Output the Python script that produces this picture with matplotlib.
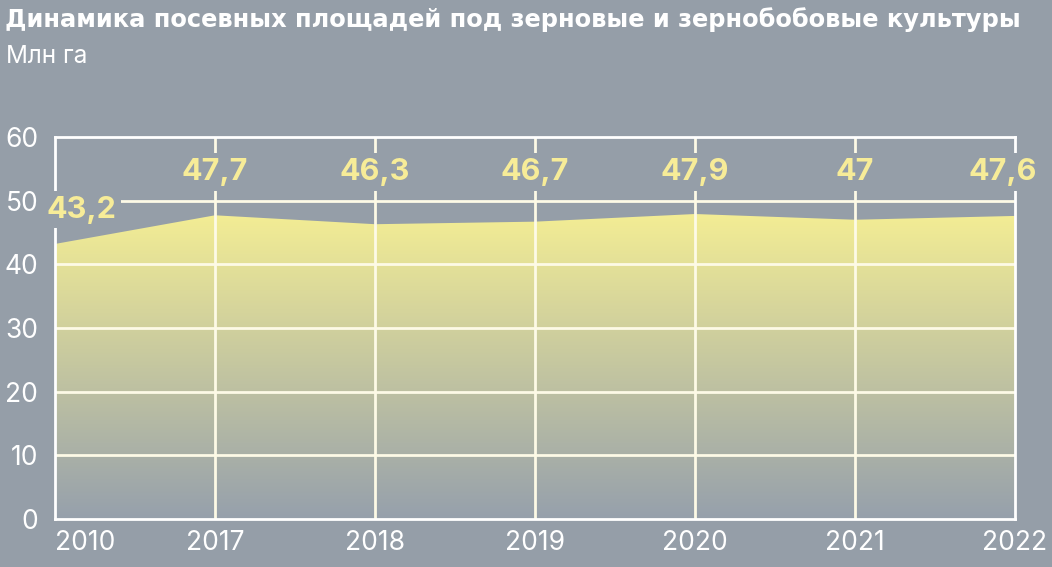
import matplotlib.pyplot as plt
import numpy as np

# data
years = ["2010", "2017", "2018", "2019", "2020", "2021", "2022"]
area = [43.2, 47.7, 46.3, 46.7, 47.9, 47.0, 47.6]
labels = ["43,2", "47,7", "46,3", "46,7", "47,9", "47", "47,6"]
yticks = [0, 10, 20, 30, 40, 50, 60]

bg = "#959ea8"
yellow = "#f7ec98"
grid_c = "#fdfae6"

plt.rcParams.update({
    "font.family": ["Inter", "DejaVu Sans"],
    "text.color": "white",
    "xtick.color": "white",
    "ytick.color": "white",
})

fig = plt.figure(figsize=(10.52, 5.67), dpi=100, facecolor=bg)
ax = fig.add_axes([0.0523, 0.0847, 0.9125, 0.6737])
ax.set_facecolor(bg)

x = np.arange(len(years))

# gradient fill under the line, clipped to the area polygon
top_rgb = np.array([243, 237, 148]) / 255
bot_rgb = np.array([150, 160, 172]) / 255
t = np.linspace(0, 1, 256)[:, None]
grad = bot_rgb + (top_rgb - bot_rgb) * t
img = np.dstack([grad[:, None, 0], grad[:, None, 1], grad[:, None, 2],
                 np.ones((256, 1))])
poly = ax.fill_between(x, area, 0, color="none", lw=0)
im = ax.imshow(img, extent=[x[0], x[-1], 0, max(area)], origin="lower",
               aspect="auto", zorder=1, interpolation="bilinear")
im.set_clip_path(poly.get_paths()[0], transform=ax.transData)

ax.set_xlim(x[0], x[-1])
ax.set_ylim(0, 60)

# grid
for yv in yticks[1:-1]:
    ax.axhline(yv, color=grid_c, lw=2, zorder=2)
for xv in x[1:-1]:
    ax.axvline(xv, color=grid_c, lw=2, zorder=2)
for s in ax.spines.values():
    s.set_color("white")
    s.set_linewidth(2)
    s.set_zorder(2.5)

ax.set_yticks(yticks)
ax.set_yticklabels([str(v) for v in yticks], fontsize=19)
ax.set_xticks(x)
ax.set_xticklabels(years, fontsize=19)
ax.tick_params(length=0, pad=12)
ax.tick_params(axis="x", pad=8)
ax.get_xticklabels()[0].set_horizontalalignment("left")

# value labels: most sit on one line above the area, first one lower
label_y = 54.5
for i, (v, lab) in enumerate(zip(area, labels)):
    ly, dx = label_y, 0
    if i == 0:
        ly, dx = v + 5.4, 19
    elif i == len(area) - 1:
        dx = -9
    ax.annotate(lab, (x[i], ly), xytext=(dx, 0), textcoords="offset points",
                ha="center", va="center", fontsize=22, fontweight="bold",
                color=yellow, zorder=5, annotation_clip=False,
                bbox=dict(boxstyle="square,pad=0.15", fc=bg, ec="none"))

fig.text(0.005, 0.965, "Динамика посевных площадей под зерновые и зернобобовые культуры",
         fontsize=17.4, fontweight="bold", color="white", va="center", ha="left",
         family="DejaVu Sans")
fig.text(0.006, 0.9, "Млн га", fontsize=17.5, color="white", va="center", ha="left")

fig.savefig("out.png", dpi=100, facecolor=bg)
